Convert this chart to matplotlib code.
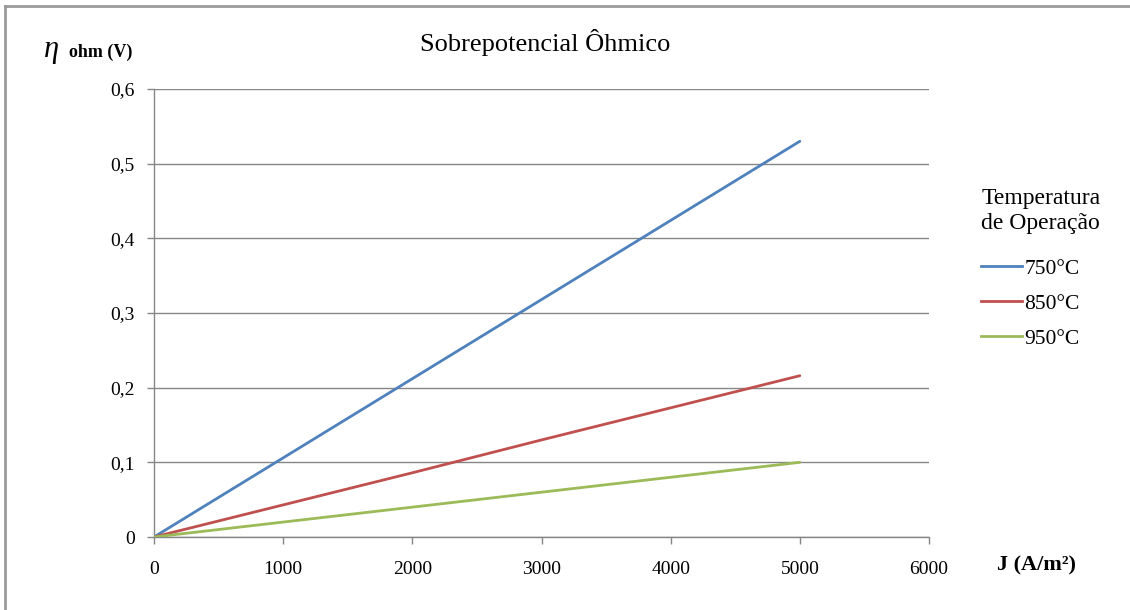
import matplotlib
matplotlib.use("Agg")
import matplotlib.pyplot as plt
from matplotlib.lines import Line2D
from matplotlib.ticker import FuncFormatter

# Current density (A/m²) and ohmic overpotential (V) for each operating temperature
current_density = [0, 1000, 2000, 3000, 4000, 5000]
eta_750 = [0, 0.106, 0.212, 0.318, 0.424, 0.530]
eta_850 = [0, 0.043, 0.086, 0.130, 0.173, 0.216]
eta_950 = [0, 0.020, 0.040, 0.060, 0.080, 0.100]
series_labels = ["750°C", "850°C", "950°C"]
series_colors = ["#4F81BD", "#C0504D", "#9BBB59"]

x_ticks = [0, 1000, 2000, 3000, 4000, 5000, 6000]
y_ticks = [0, 0.1, 0.2, 0.3, 0.4, 0.5, 0.6]

plt.rcParams["font.family"] = ["Liberation Serif", "DejaVu Serif"]

fig = plt.figure(figsize=(11.3, 6.1), dpi=100)
ax = fig.add_axes([154 / 1130, 1 - 537 / 610, (929 - 154) / 1130, (537 - 89) / 610])

grey = "#868686"
for ys, lab, col in zip([eta_750, eta_850, eta_950], series_labels, series_colors):
    ax.plot(current_density, ys, color=col, lw=2.0, label=lab, solid_capstyle="round", zorder=3)

ax.set_xlim(0, 6000)
ax.set_ylim(0, 0.6)
ax.set_xticks(x_ticks)
ax.set_yticks(y_ticks)
ax.yaxis.set_major_formatter(FuncFormatter(lambda v, p: ("%g" % round(v, 2)).replace(".", ",")))
ax.xaxis.set_major_formatter(FuncFormatter(lambda v, p: "%d" % v))
ax.grid(axis="y", color=grey, lw=1.0, zorder=0)
ax.set_axisbelow(True)
for side in ["top", "right"]:
    ax.spines[side].set_visible(False)
for side in ["left", "bottom"]:
    ax.spines[side].set_color(grey)
    ax.spines[side].set_linewidth(1.0)
ax.tick_params(axis="both", direction="out", length=5, width=1.0, color=grey,
               labelsize=14, labelcolor="black")
ax.tick_params(axis="x", pad=12)
ax.tick_params(axis="y", pad=9)

fig.text(545 / 1130, 1 - 42 / 610, "Sobrepotencial Ôhmico", ha="center", va="center", fontsize=19)
fig.text(44 / 1130, 1 - 57 / 610, "η", ha="left", va="baseline", fontsize=22, style="italic")
fig.text(69 / 1130, 1 - 57 / 610, "ohm (V)", ha="left", va="baseline", fontsize=13, fontweight="bold")
fig.text(997 / 1130, 1 - 570 / 610, "J (A/m²)", ha="left", va="baseline", fontsize=16, fontweight="bold")

leg = fig.legend(
    handles=[Line2D([], [], color=c, lw=2.0) for c in series_colors],
    labels=series_labels,
    title="Temperatura\nde Operação",
    loc="upper left",
    bbox_to_anchor=(962 / 1130, 1 - 169 / 610),
    frameon=False,
    fontsize=15.5,
    title_fontsize=17,
    handlelength=1.9,
    handletextpad=0.1,
    labelspacing=0.7,
    alignment="left",
)
leg._legend_box.sep = 18

# Outer chart frame
fig.add_artist(Line2D([5 / 1130, 5 / 1130], [0, 1 - 6 / 610], transform=fig.transFigure, color="#9a9a9a", lw=2))
fig.add_artist(Line2D([5 / 1130, 1], [1 - 6 / 610, 1 - 6 / 610], transform=fig.transFigure, color="#9a9a9a", lw=2))

fig.savefig("out.png", dpi=100, facecolor="white")
